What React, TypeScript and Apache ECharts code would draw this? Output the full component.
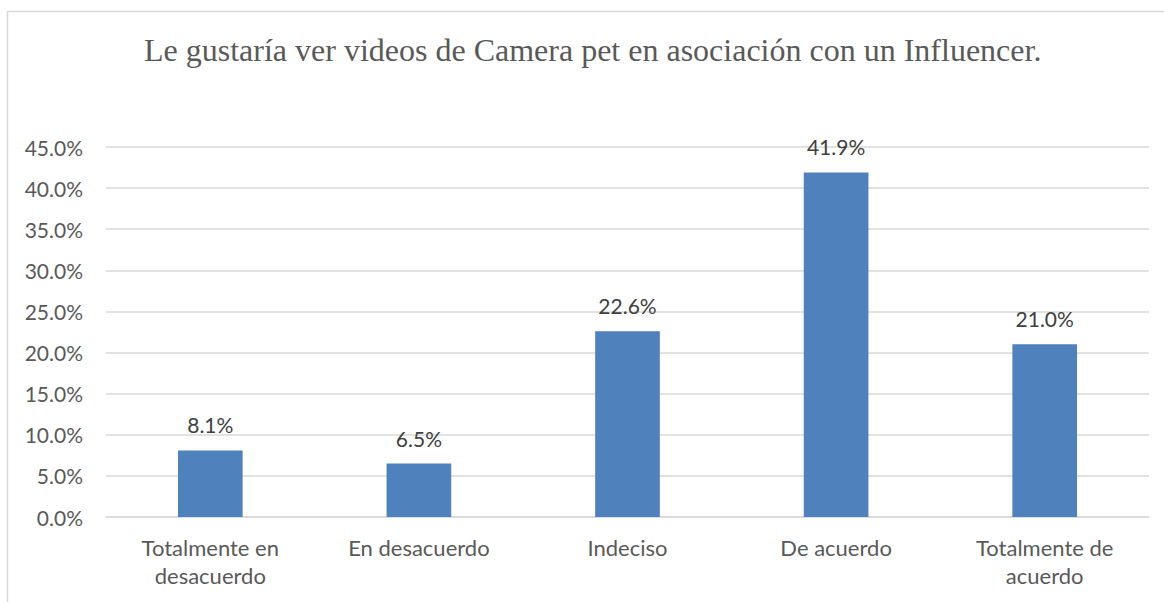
import React, { useEffect, useRef } from "react";
import * as echarts from "echarts";

const categories = [
  "Totalmente en\ndesacuerdo",
  "En desacuerdo",
  "Indeciso",
  "De acuerdo",
  "Totalmente de\nacuerdo",
];
const values = [8.1, 6.5, 22.6, 41.9, 21.0];
const titleText = "Le gustaría ver videos de Camera pet en asociación con un Influencer.";

export default function App() {
  const ref = useRef<HTMLDivElement>(null);
  useEffect(() => {
    if (!ref.current) return;
    const chart = echarts.init(ref.current, null, { renderer: "svg" });
    chart.setOption({
      animation: false,
      backgroundColor: "#ffffff",
      title: {
        text: titleText,
        left: 139,
        top: 29,
        textStyle: {
          fontFamily: "Liberation Serif",
          fontSize: 32,
          fontWeight: "normal",
          color: "#595959",
        },
      },
      graphic: [
        {
          type: "rect",
          shape: { x: 7.5, y: 11.5, width: 1180, height: 620 },
          style: { fill: "none", stroke: "#d9d9d9", lineWidth: 1.5 },
          silent: true,
        },
      ],
      grid: { left: 106, right: 15, top: 147, bottom: 85 },
      xAxis: {
        type: "category",
        data: categories,
        axisLine: { lineStyle: { color: "#d9d9d9", width: 1.5 } },
        axisTick: { show: false },
        axisLabel: {
          color: "#595959",
          fontFamily: "Lato",
          fontSize: 22,
          lineHeight: 28,
          margin: 16,
          interval: 0,
        },
      },
      yAxis: {
        type: "value",
        min: 0,
        max: 45,
        interval: 5,
        axisLine: { show: false },
        axisTick: { show: false },
        splitLine: { lineStyle: { color: "#d9d9d9", width: 1.5 } },
        axisLabel: {
          color: "#595959",
          fontFamily: "Lato",
          fontSize: 21,
          margin: 23,
          formatter: (v: number) => v.toFixed(1) + "%",
        },
      },
      series: [
        {
          type: "bar",
          data: values,
          barWidth: "31%",
          itemStyle: { color: "#4f81bd" },
          label: {
            show: true,
            position: "top",
            distance: 15,
            color: "#404040",
            fontFamily: "Lato",
            fontSize: 21,
            formatter: (p: any) => Number(p.value).toFixed(1) + "%",
          },
        },
      ],
    });
    return () => chart.dispose();
  }, []);
  return (
    <div
      ref={ref}
      style={{ position: "absolute", left: 0, top: 0, width: 1164, height: 602 }}
    />
  );
}
